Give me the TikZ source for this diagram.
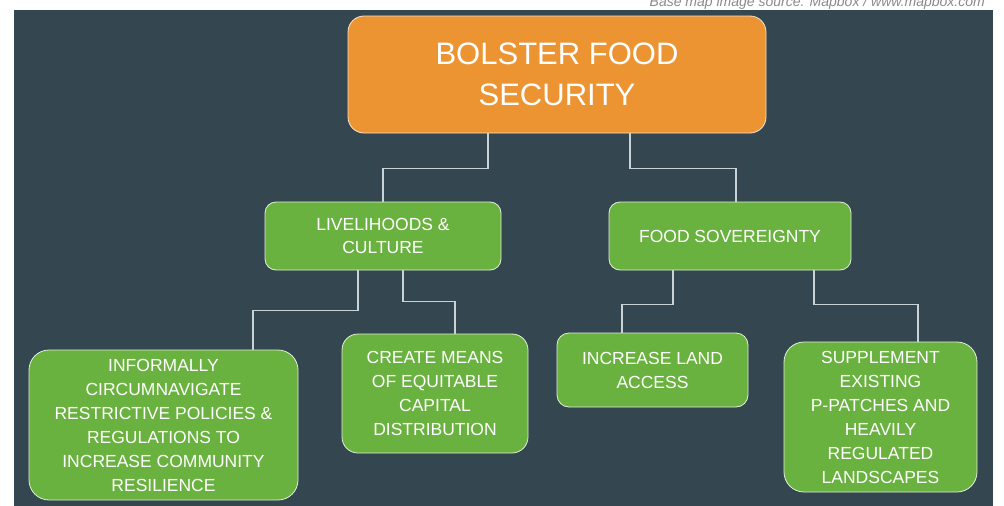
\documentclass[tikz,border=0pt]{standalone}
\usepackage{fontspec}
\setmainfont{Liberation Sans}
\definecolor{bgslate}{HTML}{34464F}
\definecolor{boxorange}{HTML}{EC9332}
\definecolor{boxgreen}{HTML}{6AB23F}
\definecolor{linegray}{HTML}{C9D2D6}
\definecolor{capgray}{HTML}{8A8A8A}
\begin{document}
\begin{tikzpicture}[x=1pt,y=-1pt,
  box/.style={rectangle, rounded corners=#1, draw=white!80!boxgreen, line width=0.8pt,
    fill=boxgreen, text=white, align=center, inner sep=0pt},
  box/.default=12pt,
  topbox/.style={rectangle, rounded corners=16pt, draw=white!75!boxorange, line width=0.8pt,
    fill=boxorange, text=white, align=center, inner sep=0pt,
    font=\fontsize{31}{41}\selectfont},
  midfont/.style={font=\fontsize{17.5}{23}\selectfont},
  lowfont/.style={font=\fontsize{17.5}{24}\selectfont},
  conn/.style={draw=linegray, line width=1.1pt}
]
\useasboundingbox (0,0) rectangle (1004,506);
\clip (0,0) rectangle (1004,506);
\fill[white] (0,0) rectangle (1004,506);
\fill[bgslate] (14,10) rectangle (993,506);
\node[font=\itshape\fontsize{14}{14}\selectfont, text=capgray, anchor=base east, inner sep=0pt] (cap) at (985,6) {Base map image source: Mapbox / www.mapbox.com};

\node[topbox, minimum width=418pt, minimum height=117pt] (top) at (557,74.5) {BOLSTER FOOD\\SECURITY};

\node[box=11pt, midfont, minimum width=236pt, minimum height=68pt] (liv) at (383,236) {LIVELIHOODS \&\\CULTURE};
\node[box=11pt, midfont, minimum width=242pt, minimum height=68pt] (food) at (730,236) {FOOD SOVEREIGNTY};

\node[box=20pt, lowfont, minimum width=269pt, minimum height=150pt] (inf) at (163.5,425) {INFORMALLY\\CIRCUMNAVIGATE\\RESTRICTIVE POLICIES \&\\REGULATIONS TO\\INCREASE COMMUNITY\\RESILIENCE};
\node[box=16pt, lowfont, minimum width=186pt, minimum height=119pt] (cre) at (435,393.5) {CREATE MEANS\\OF EQUITABLE\\CAPITAL\\DISTRIBUTION};
\node[box=12pt, lowfont, minimum width=191pt, minimum height=74pt] (inc) at (652.5,370) {INCREASE LAND\\ACCESS};
\node[box=20pt, lowfont, minimum width=193pt, minimum height=150pt] (sup) at (880.5,417) {SUPPLEMENT\\EXISTING\\P-PATCHES AND\\HEAVILY\\REGULATED\\LANDSCAPES};

\draw[conn] ([xshift=-69pt]top.south) -- ++(0,35) -| (liv.north);
\draw[conn] ([xshift=73pt]top.south) -- ++(0,35) -| ([xshift=6pt]food.north);
\draw[conn] ([xshift=-25pt]liv.south) -- ++(0,40) -| ([xshift=89.5pt]inf.north);
\draw[conn] ([xshift=20pt]liv.south) -- ++(0,31) -| ([xshift=20pt]cre.north);
\draw[conn] ([xshift=-57pt]food.south) -- ++(0,34) -| ([xshift=-30.5pt]inc.north);
\draw[conn] ([xshift=84pt]food.south) -- ++(0,34) -| ([xshift=37.5pt]sup.north);
\end{tikzpicture}
\end{document}
